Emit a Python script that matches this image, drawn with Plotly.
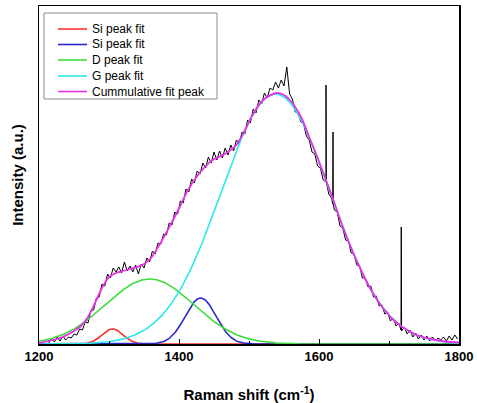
import numpy as np
import plotly.graph_objects as go

# ---- measured Raman spectrum (arbitrary units) ----
raman_x = list(range(1214, 1799, 4))
raman_y = [1, 6, 2, 7, 3, 8, 4, 7, 6, 10, 9, 15, 14, 22, 21, 33, 34, 46, 47, 60,
           58, 70, 66, 76, 72, 77, 71, 82, 73, 78, 72, 79, 70, 80, 76, 86, 82, 93, 90, 101,
           100, 110, 109, 121, 119, 132, 130, 143, 141, 155, 152, 165, 161, 173, 170, 181, 176, 187, 181, 192,
           184, 193, 186, 196, 189, 199, 193, 204, 200, 212, 210, 224, 221, 235, 231, 244, 240, 251, 246, 256,
           254, 262, 256, 264, 258, 277, 250, 245, 232, 232, 222, 220, 208, 204, 192, 190, 178, 176, 164, 162,
           150, 146, 134, 132, 118, 116, 104, 103, 91, 90, 79, 78, 66, 66, 57, 58, 47, 48, 38, 39,
           30, 32, 23, 26, 18, 21, 13, 17, 10, 14, 7, 11, 5, 9, 4, 8, 3, 7, 3, 6,
           4, 7, 3, 8, 4, 9, 5]

# narrow cosmic-ray spikes
spike_x = [1610, 1620, 1717.5]
spike_top = [259, 212, 117]

# ---- fitted peaks: centre, width (sigma), height ----
peak_names = ["Si peak fit", "Si peak fit", "D peak fit", "G peak fit"]
peak_center = [1305, 1431, 1358, 1538]
peak_sigma = [15, 22, 63, 78]
peak_height = [15, 46, 65, 250]
peak_colors = ["#ff3030", "#2a2acc", "#3ddc3d", "#2be8e8"]

# ---- cumulative fit curve ----
cum_name = "Cummulative fit peak"
cum_color = "#e830e8"
cum_x = [1200, 1220, 1230, 1240, 1250, 1260, 1270, 1280, 1290, 1300, 1310, 1320, 1330, 1340,
         1350, 1360, 1376, 1390, 1401, 1412, 1425, 1437, 1448, 1460, 1470, 1482, 1495, 1505,
         1520, 1539, 1550, 1562, 1575, 1586, 1598, 1610, 1622, 1634, 1646, 1658, 1672, 1684,
         1696, 1708, 1719, 1731, 1743, 1760, 1780, 1800]
cum_y = [1, 4, 6, 9, 13, 18, 27, 41, 56, 67, 71, 73, 75, 77,
         80, 86, 104, 122, 137, 153, 167, 177, 184, 188, 192, 199, 215, 229,
         244, 251, 249, 241, 226, 207, 186, 164, 141, 117, 96, 77, 57, 43,
         32, 23, 17, 12, 8, 5, 2.5, 1.5]

# merge spikes into the spectrum
sx = list(raman_x)
sy = list(raman_y)
for x0, top in zip(spike_x, spike_top):
    base = float(np.interp(x0, raman_x, raman_y))
    sx += [x0 - 0.4, x0, x0 + 0.4]
    sy += [base, top, base]
order = np.argsort(sx, kind="stable")
sx = [sx[i] for i in order]
sy = [sy[i] for i in order]

W, H = 477, 403
ML, MR, MT, MB = 39, 18, 6, 59
PW, PH = W - ML - MR, H - MT - MB


def px_x(p):
    return (p - ML) / PW


def px_y(p):
    return (H - MB - p) / PH


fig = go.Figure()
fig.add_trace(go.Scatter(x=sx, y=sy, mode="lines", line=dict(color="black", width=1),
                         showlegend=False, hoverinfo="skip"))

grid = np.arange(1200, 1801, 1.0)
for name, c, s, h, col in zip(peak_names, peak_center, peak_sigma, peak_height, peak_colors):
    fig.add_trace(go.Scatter(x=grid, y=h * np.exp(-(grid - c) ** 2 / (2 * s ** 2)),
                             mode="lines", name=name, showlegend=False,
                             line=dict(color=col, width=1.6)))

fig.add_trace(go.Scatter(x=cum_x, y=cum_y, mode="lines", name=cum_name, showlegend=False,
                         line=dict(color=cum_color, width=1.8, shape="spline", smoothing=0.8)))

# ---- hand-drawn legend box (compact rows like the original) ----
leg_labels = peak_names + [cum_name]
leg_colors = peak_colors + [cum_color]
row_py = [29, 44.5, 60, 76, 91.5]
shapes = [dict(type="rect", xref="paper", yref="paper",
               x0=px_x(44), x1=px_x(217), y0=px_y(99), y1=px_y(13),
               line=dict(color="#8a8a8a", width=1), fillcolor="white", layer="above")]
annotations = []
for lab, col, ry in zip(leg_labels, leg_colors, row_py):
    shapes.append(dict(type="line", xref="paper", yref="paper",
                       x0=px_x(58), x1=px_x(87), y0=px_y(ry), y1=px_y(ry),
                       line=dict(color=col, width=1.6), layer="above"))
    annotations.append(dict(xref="paper", yref="paper", x=px_x(90), y=px_y(ry),
                            xanchor="left", yanchor="middle", text=lab, showarrow=False,
                            font=dict(size=12, color="black")))

fig.update_layout(
    width=W, height=H,
    margin=dict(l=ML, r=MR, t=MT, b=MB),
    paper_bgcolor="white", plot_bgcolor="white",
    font=dict(family="Liberation Sans, Arial, sans-serif", color="black"),
    showlegend=False, hovermode=False,
    shapes=shapes, annotations=annotations,
    xaxis=dict(range=[1200, 1800], tickvals=[1200, 1400, 1600, 1800],
               ticks="inside", ticklen=5, tickwidth=1, tickcolor="black",
               minor=dict(tickvals=[1300, 1500, 1700], ticks="inside", ticklen=3, tickcolor="black"),
               showline=True, linecolor="black", linewidth=1.5, mirror=True,
               showgrid=False, zeroline=False, automargin=False,
               tickfont=dict(size=13, family="Liberation Sans, Arial, sans-serif", weight="bold"),
               title=dict(text="<b>Raman shift (cm<sup>-1</sup>)</b>", font=dict(size=15), standoff=26)),
    yaxis=dict(range=[0, 338], showticklabels=False, ticks="",
               showline=True, linecolor="black", linewidth=1.5, mirror=True,
               showgrid=False, zeroline=False, automargin=False,
               title=dict(text="<b>Intensity (a.u.)</b>", font=dict(size=15), standoff=10)),
)

fig.write_html("out.html", config={"displayModeBar": False, "staticPlot": True},
               post_script="document.body.style.margin='0px';document.body.style.padding='0px';")
